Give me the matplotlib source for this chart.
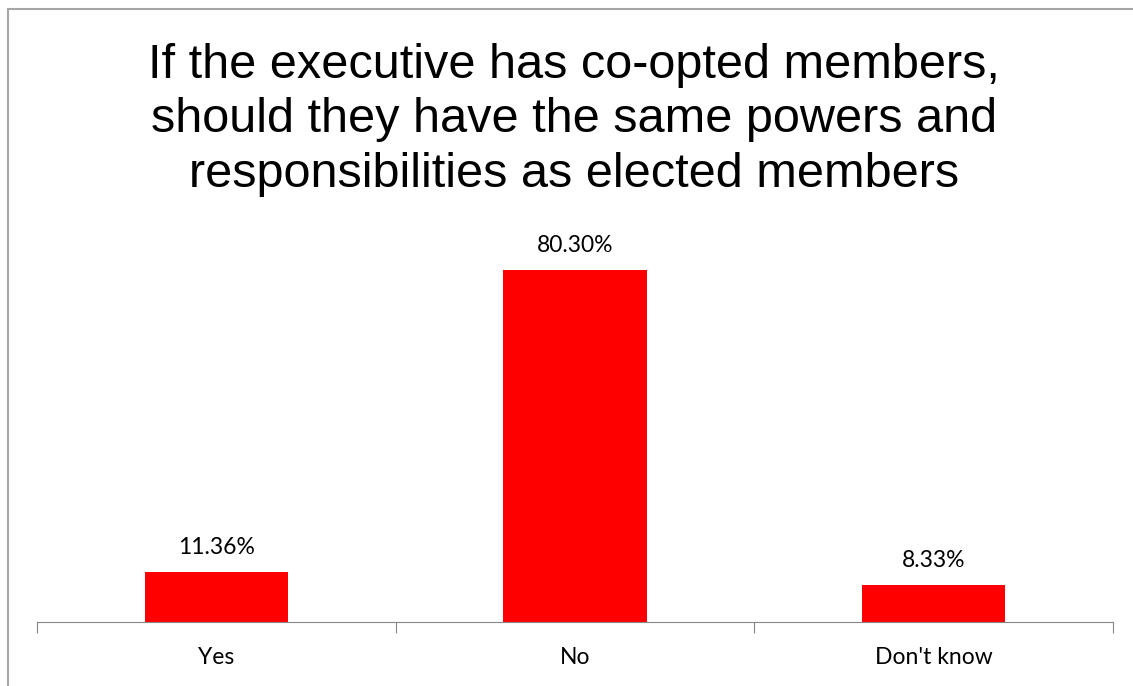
import matplotlib.pyplot as plt
from matplotlib.patches import Rectangle
from matplotlib import font_manager

categories = ['Yes', 'No', "Don't know"]
values = [11.36, 80.30, 8.33]
title = ('If the executive has co-opted members,\n'
         'should they have the same powers and\n'
         'responsibilities as elected members')

names = {f.name for f in font_manager.fontManager.ttflist}
title_font = 'Liberation Sans Narrow' if 'Liberation Sans Narrow' in names else 'Liberation Sans'
label_font = 'Lato'

W, H = 1133, 686
fig = plt.figure(figsize=(W / 100, H / 100), dpi=100)

# outer chart border (runs off the right and bottom edges)
fig.patches.append(Rectangle((7.5 / W, -0.1), 1.2, 1 - 8.5 / H + 0.1,
                             transform=fig.transFigure, fill=False,
                             edgecolor='#a6a6a6', linewidth=1.5))

ax = fig.add_axes([37 / W, (H - 622) / H, (1113 - 37) / W, (622 - 200) / H])
x = range(len(categories))
bars = ax.bar(x, values, width=0.4, color='#ff0000')
ax.set_xlim(-0.5, 2.5)
ax.set_ylim(0, 80.30 * (622 - 200) / 352)

for b, v in zip(bars, values):
    ax.annotate(f'{v:.2f}%', (b.get_x() + b.get_width() / 2, v),
                xytext=(0, 13), textcoords='offset points', ha='center',
                va='baseline', fontsize=16.5, family=label_font, color='#000000')

for s in ['top', 'right', 'left']:
    ax.spines[s].set_visible(False)
ax.spines['bottom'].set_color('#868686')
ax.set_yticks([])
ax.set_xticks([-0.5, 0.5, 1.5, 2.5])
ax.set_xticklabels([])
ax.tick_params(axis='x', length=8, color='#868686', direction='out')
for i, c in enumerate(categories):
    ax.text(i, -0.083, c, transform=ax.get_xaxis_transform(), ha='center',
            va='center', fontsize=16.5, family=label_font)

fig.text(0.507, 1 - 120 / H, title, ha='center', va='center',
         fontsize=35, family=title_font, linespacing=1.26)

fig.savefig('out.png', dpi=100)
